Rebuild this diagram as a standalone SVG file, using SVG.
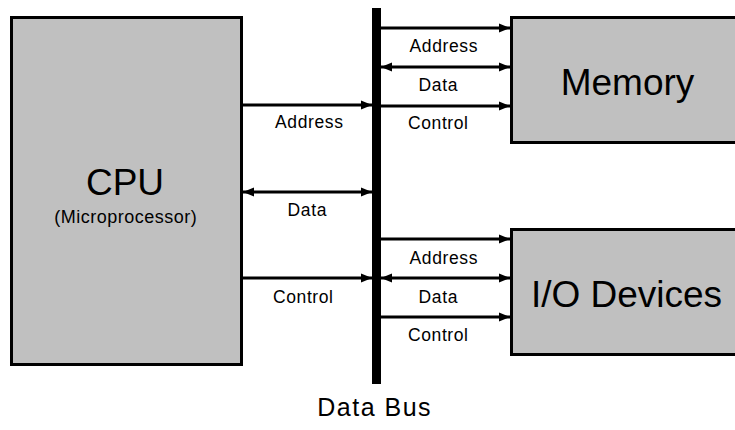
<svg xmlns="http://www.w3.org/2000/svg" width="735" height="430" viewBox="0 0 735 430">
<style>
.box{fill:#c0c0c0;stroke:#000;stroke-width:3}
.ln{stroke:#000;stroke-width:3;fill:none}
text{font-family:"Liberation Sans",Arial,sans-serif;fill:#000;text-anchor:middle}
.big{font-size:37px}
.sub{font-size:18px;letter-spacing:0.5px}
.lbl{font-size:17.5px;letter-spacing:0.6px}
.bus{font-size:25px;letter-spacing:1.5px}
</style>
<defs>
<marker id="ah" markerUnits="userSpaceOnUse" markerWidth="12" markerHeight="10" refX="11" refY="5" orient="auto-start-reverse">
<path d="M0,0.5 L11,5 L0,9.5 z" fill="#000"/>
</marker>
</defs>
<rect width="735" height="430" fill="#fff"/>
<g id="connectors">
<line class="ln" x1="243" y1="105" x2="372" y2="105" marker-end="url(#ah)"/>
<line class="ln" x1="243" y1="192" x2="372" y2="192" marker-start="url(#ah)" marker-end="url(#ah)"/>
<line class="ln" x1="243" y1="278" x2="372" y2="278" marker-end="url(#ah)"/>
<line class="ln" x1="381" y1="28" x2="510" y2="28" marker-end="url(#ah)"/>
<line class="ln" x1="381" y1="67" x2="510" y2="67" marker-start="url(#ah)" marker-end="url(#ah)"/>
<line class="ln" x1="381" y1="106" x2="510" y2="106" marker-end="url(#ah)"/>
<line class="ln" x1="381" y1="239" x2="510" y2="239" marker-end="url(#ah)"/>
<line class="ln" x1="381" y1="278" x2="510" y2="278" marker-start="url(#ah)" marker-end="url(#ah)"/>
<line class="ln" x1="381" y1="317" x2="510" y2="317" marker-end="url(#ah)"/>
<text class="lbl" x="309.3" y="128">Address</text>
<text class="lbl" x="307.3" y="216">Data</text>
<text class="lbl" x="303.3" y="303">Control</text>
<text class="lbl" x="443.8" y="52">Address</text>
<text class="lbl" x="438.3" y="91">Data</text>
<text class="lbl" x="438.3" y="129">Control</text>
<text class="lbl" x="443.8" y="264">Address</text>
<text class="lbl" x="438.3" y="303">Data</text>
<text class="lbl" x="438.3" y="341">Control</text>
</g>
<g id="bus">
<rect x="372" y="8" width="9" height="376" fill="#000"/>
<text class="bus" x="374.7" y="416">Data Bus</text>
</g>
<g id="cpu">
<rect class="box" x="11.5" y="17.5" width="230" height="347"/>
<text class="big" x="125" y="195">CPU</text>
<text class="sub" x="125.7" y="222.5">(Microprocessor)</text>
</g>
<g id="memory">
<rect class="box" x="511.5" y="17.5" width="240" height="125"/>
<text class="big" x="627.5" y="95">Memory</text>
</g>
<g id="io">
<rect class="box" x="511.5" y="229.5" width="240" height="125"/>
<text class="big" x="626.5" y="306.5">I/O Devices</text>
</g>
</svg>
